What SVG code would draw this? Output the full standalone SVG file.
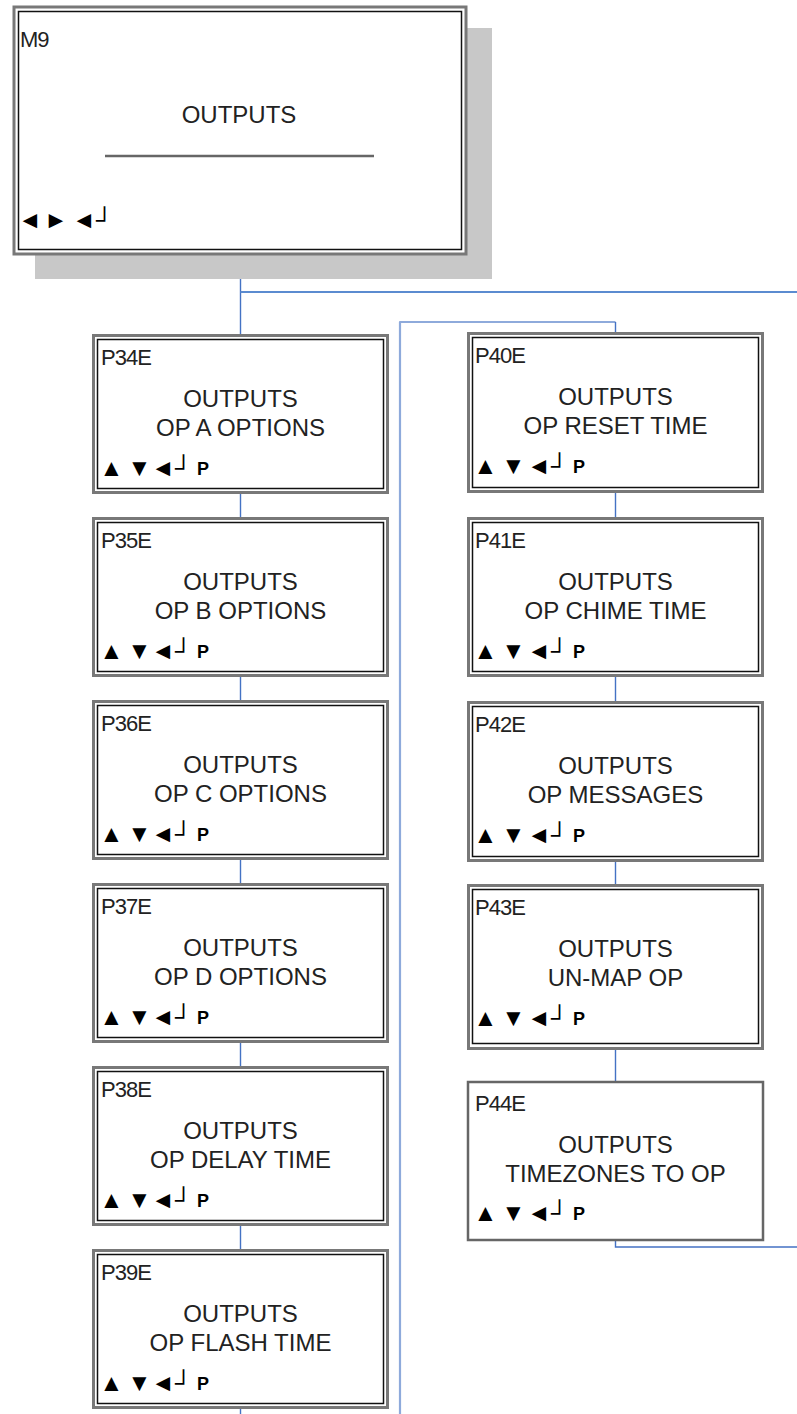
<svg xmlns="http://www.w3.org/2000/svg" width="797" height="1414" viewBox="0 0 797 1414">
<style>
text{font-family:"Liberation Sans",Arial,"DejaVu Sans",sans-serif;fill:#222}
.lbl{font-size:22px;letter-spacing:-1px}
.main{font-size:24px;text-anchor:middle}
.sym{font-size:24px;fill:#000}
.b{font-weight:bold;font-size:18px}
.outer{fill:#fff;stroke:#787878;stroke-width:3}
.inner{fill:none;stroke:#111;stroke-width:1.5}
.single{fill:#fff;stroke:#666;stroke-width:2.5}
.conn{stroke:#4472c4;stroke-width:1.4;fill:none}
.bus{stroke:#8eaadb;stroke-width:2.2;fill:none;stroke-linejoin:round}
.hbus{stroke:#5b8bd0;stroke-width:2;fill:none}
</style>
<g id="connectors">
<path class="conn" d="M240.5 256V334M240.5 494V517M240.5 677V700M240.5 860V883M240.5 1043V1066M240.5 1226V1249M240.5 1409V1414"/>
<path class="hbus" d="M240.5 292H797"/>
<path class="bus" d="M400 1414V322H615.5"/>
<path class="conn" d="M615.5 322V332M615.5 493V517M615.5 677V701M615.5 862V884M615.5 1050V1081M615.5 1240V1247H797"/>
</g>
<g id="M9">
<rect x="35" y="28" width="457" height="251" fill="#c8c8c8"/>
<rect class="outer" x="14" y="7" width="452" height="247" stroke-width="4"/>
<rect class="inner" x="18.5" y="11.5" width="443" height="238"/>
<text class="lbl" x="20" y="47">M9</text>
<text class="main" x="239" y="123">OUTPUTS</text>
<line x1="105" y1="156" x2="374" y2="156" stroke="#666" stroke-width="2.5"/>
<text class="sym" y="228" font-size="29"><tspan x="18">◄</tspan><tspan x="44">►</tspan><tspan x="72">◄┘</tspan></text>
</g>
<g id="P34E">
<rect class="outer" x="93.5" y="335.5" width="294" height="157"/>
<rect class="inner" x="97.5" y="339.5" width="286" height="149"/>
<text class="lbl" x="101" y="365">P34E</text>
<text class="main" x="240.5" y="407">OUTPUTS</text>
<text class="main" x="240.5" y="436">OP A OPTIONS</text>
<text class="sym" y="476"><tspan x="99.5">▲</tspan><tspan x="127.5">▼</tspan><tspan x="151">◄┘</tspan><tspan class="b" x="197" y="475">P</tspan></text>
</g>
<g id="P35E">
<rect class="outer" x="93.5" y="518.5" width="294" height="157"/>
<rect class="inner" x="97.5" y="522.5" width="286" height="149"/>
<text class="lbl" x="101" y="548">P35E</text>
<text class="main" x="240.5" y="590">OUTPUTS</text>
<text class="main" x="240.5" y="619">OP B OPTIONS</text>
<text class="sym" y="659"><tspan x="99.5">▲</tspan><tspan x="127.5">▼</tspan><tspan x="151">◄┘</tspan><tspan class="b" x="197" y="658">P</tspan></text>
</g>
<g id="P36E">
<rect class="outer" x="93.5" y="701.5" width="294" height="157"/>
<rect class="inner" x="97.5" y="705.5" width="286" height="149"/>
<text class="lbl" x="101" y="731">P36E</text>
<text class="main" x="240.5" y="773">OUTPUTS</text>
<text class="main" x="240.5" y="802">OP C OPTIONS</text>
<text class="sym" y="842"><tspan x="99.5">▲</tspan><tspan x="127.5">▼</tspan><tspan x="151">◄┘</tspan><tspan class="b" x="197" y="841">P</tspan></text>
</g>
<g id="P37E">
<rect class="outer" x="93.5" y="884.5" width="294" height="157"/>
<rect class="inner" x="97.5" y="888.5" width="286" height="149"/>
<text class="lbl" x="101" y="914">P37E</text>
<text class="main" x="240.5" y="956">OUTPUTS</text>
<text class="main" x="240.5" y="985">OP D OPTIONS</text>
<text class="sym" y="1025"><tspan x="99.5">▲</tspan><tspan x="127.5">▼</tspan><tspan x="151">◄┘</tspan><tspan class="b" x="197" y="1024">P</tspan></text>
</g>
<g id="P38E">
<rect class="outer" x="93.5" y="1067.5" width="294" height="157"/>
<rect class="inner" x="97.5" y="1071.5" width="286" height="149"/>
<text class="lbl" x="101" y="1097">P38E</text>
<text class="main" x="240.5" y="1139">OUTPUTS</text>
<text class="main" x="240.5" y="1168">OP DELAY TIME</text>
<text class="sym" y="1208"><tspan x="99.5">▲</tspan><tspan x="127.5">▼</tspan><tspan x="151">◄┘</tspan><tspan class="b" x="197" y="1207">P</tspan></text>
</g>
<g id="P39E">
<rect class="outer" x="93.5" y="1250.5" width="294" height="157"/>
<rect class="inner" x="97.5" y="1254.5" width="286" height="149"/>
<text class="lbl" x="101" y="1280">P39E</text>
<text class="main" x="240.5" y="1322">OUTPUTS</text>
<text class="main" x="240.5" y="1351">OP FLASH TIME</text>
<text class="sym" y="1391"><tspan x="99.5">▲</tspan><tspan x="127.5">▼</tspan><tspan x="151">◄┘</tspan><tspan class="b" x="197" y="1390">P</tspan></text>
</g>
<g id="P40E">
<rect class="outer" x="468.5" y="333.5" width="294" height="158"/>
<rect class="inner" x="472.5" y="337.5" width="286" height="150"/>
<text class="lbl" x="475" y="363">P40E</text>
<text class="main" x="615.5" y="405">OUTPUTS</text>
<text class="main" x="615.5" y="434">OP RESET TIME</text>
<text class="sym" y="474"><tspan x="473.5">▲</tspan><tspan x="501.5">▼</tspan><tspan x="527">◄┘</tspan><tspan class="b" x="573" y="473">P</tspan></text>
</g>
<g id="P41E">
<rect class="outer" x="468.5" y="518.5" width="294" height="157"/>
<rect class="inner" x="472.5" y="522.5" width="286" height="149"/>
<text class="lbl" x="475" y="548">P41E</text>
<text class="main" x="615.5" y="590">OUTPUTS</text>
<text class="main" x="615.5" y="619">OP CHIME TIME</text>
<text class="sym" y="659"><tspan x="473.5">▲</tspan><tspan x="501.5">▼</tspan><tspan x="527">◄┘</tspan><tspan class="b" x="573" y="658">P</tspan></text>
</g>
<g id="P42E">
<rect class="outer" x="468.5" y="702.5" width="294" height="158"/>
<rect class="inner" x="472.5" y="706.5" width="286" height="150"/>
<text class="lbl" x="475" y="732">P42E</text>
<text class="main" x="615.5" y="774">OUTPUTS</text>
<text class="main" x="615.5" y="803">OP MESSAGES</text>
<text class="sym" y="843"><tspan x="473.5">▲</tspan><tspan x="501.5">▼</tspan><tspan x="527">◄┘</tspan><tspan class="b" x="573" y="842">P</tspan></text>
</g>
<g id="P43E">
<rect class="outer" x="468.5" y="885.5" width="294" height="163"/>
<rect class="inner" x="472.5" y="889.5" width="286" height="154"/>
<text class="lbl" x="475" y="915">P43E</text>
<text class="main" x="615.5" y="957">OUTPUTS</text>
<text class="main" x="615.5" y="986">UN-MAP OP</text>
<text class="sym" y="1026"><tspan x="473.5">▲</tspan><tspan x="501.5">▼</tspan><tspan x="527">◄┘</tspan><tspan class="b" x="573" y="1025">P</tspan></text>
</g>
<g id="P44E">
<rect class="single" x="468" y="1082" width="295" height="158"/>
<text class="lbl" x="475" y="1111">P44E</text>
<text class="main" x="615.5" y="1153">OUTPUTS</text>
<text class="main" x="615.5" y="1182">TIMEZONES TO OP</text>
<text class="sym" y="1221"><tspan x="473.5">▲</tspan><tspan x="501.5">▼</tspan><tspan x="527">◄┘</tspan><tspan class="b" x="573" y="1220">P</tspan></text>
</g>
</svg>
